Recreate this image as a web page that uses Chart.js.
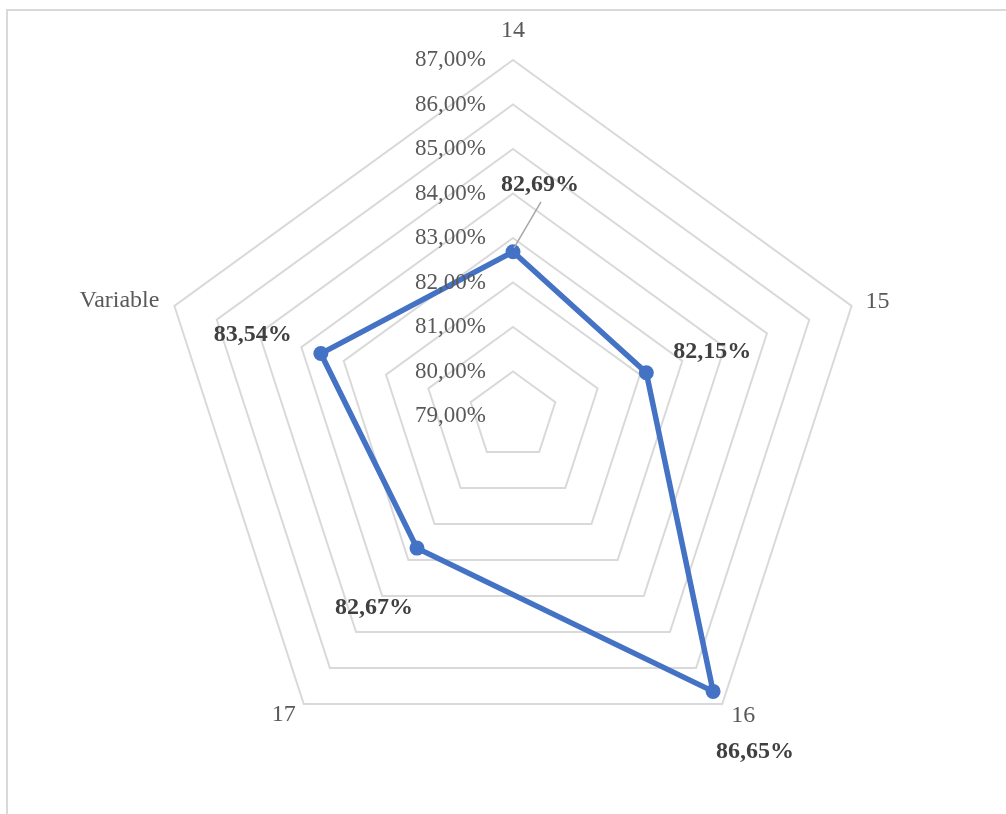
<!DOCTYPE html>
<html>
<head>
<meta charset="utf-8">
<script src="https://cdn.jsdelivr.net/npm/chart.js@4"></script>
<style>
	html, body { margin: 0; padding: 0; background: #fff; overflow: hidden; }
	#wrap { position: relative; width: 1006px; height: 814px; }
	#frame { position: absolute; left: 6px; top: 9px; width: 1100px; height: 900px; border-top: 2px solid #d9d9d9; border-left: 2px solid #d9d9d9; }
	#myChart { position: absolute; left: 0; top: 0; }
</style>
</head>
<body>
<div id="wrap">
	<div id="frame"></div>
	<canvas id="myChart" width="1006" height="814"></canvas>
</div>
<script>
const categories = ['14', '15', '16', '17', 'Variable'];
const values = [82.69, 82.15, 86.65, 82.67, 83.54];
const tickValues = [79, 80, 81, 82, 83, 84, 85, 86, 87];

const serif = '"Liberation Serif", "Times New Roman", serif';

function fmt(v) {
	return v.toFixed(2).replace('.', ',') + '%';
}

// nhãn trục, nhãn điểm và nhãn dữ liệu tự vẽ
const labelPlugin = {
	id: 'labelPlugin',
	afterDatasetsDraw(chart) {
		const ctx = chart.ctx;
		const r = chart.scales.r;
		const meta = chart.getDatasetMeta(0);
		ctx.save();

		// tick labels
		ctx.font = '23px ' + serif;
		ctx.fillStyle = '#595959';
		ctx.textAlign = 'right';
		ctx.textBaseline = 'middle';
		tickValues.forEach(v => {
			const d = r.getDistanceFromCenterForValue(v);
			ctx.fillText(fmt(v), r.xCenter - 27, r.yCenter - d);
		});

		// point labels
		ctx.font = '24px ' + serif;
		const plOff = [[0, -29, 'center'], [26, -4, 'center'], [21, 12, 'center'], [-20, 11, 'center'], [-15, -5, 'right']];
		categories.forEach((c, i) => {
			const p = r.getPointPosition(i, r.drawingArea);
			ctx.textAlign = plOff[i][2];
			ctx.fillText(c, p.x + plOff[i][0], p.y + plOff[i][1]);
		});

		// leader line cho nhãn 14
		const p0 = meta.data[0];
		ctx.strokeStyle = '#a6a6a6';
		ctx.lineWidth = 1.5;
		ctx.beginPath();
		ctx.moveTo(p0.x + 28, p0.y - 50);
		ctx.lineTo(p0.x + 1, p0.y - 4);
		ctx.stroke();

		// data labels
		const dlOff = [[27, -67], [66, -21], [42, 60], [-43, 60], [-68, -19]];
		ctx.font = 'bold 24px ' + serif;
		ctx.fillStyle = '#404040';
		ctx.textAlign = 'center';
		meta.data.forEach((pt, i) => {
			ctx.fillText(fmt(values[i]), pt.x + dlOff[i][0], pt.y + dlOff[i][1]);
		});
		ctx.restore();
	}
};

const ctx = document.getElementById('myChart').getContext('2d');
const myChart = new Chart(ctx, {
	type: 'radar',
	data: {
		labels: categories,
		datasets: [{
			data: values,
			borderColor: '#4472C4',
			backgroundColor: '#4472C4',
			borderWidth: 5.5,
			pointRadius: 7.5,
			pointBackgroundColor: '#4472C4',
			pointBorderWidth: 0,
			fill: false
		}]
	},
	options: {
		responsive: false,
		animation: false,
		layout: { padding: { left: 157, right: 137, top: 60, bottom: 42 } },
		plugins: { legend: { display: false }, tooltip: { enabled: false } },
		scales: {
			r: {
				min: 79,
				max: 87,
				ticks: { stepSize: 1, display: false },
				angleLines: { display: false },
				grid: { color: '#d9d9d9', lineWidth: 2 },
				pointLabels: { display: false }
			}
		}
	},
	plugins: [labelPlugin]
});
</script>
</body>
</html>
